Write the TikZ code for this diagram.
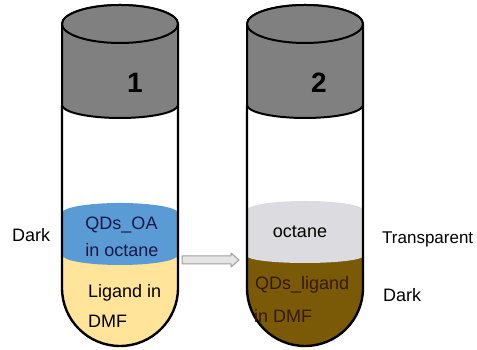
\documentclass[tikz,border=0pt]{standalone}
\usepackage{fontspec}
\setmainfont{Liberation Sans}
\usetikzlibrary{calc}

\definecolor{capgray}{RGB}{128,128,128}
\definecolor{octaneblue}{RGB}{91,155,213}
\definecolor{dmfyellow}{RGB}{255,228,153}
\definecolor{octanegray}{RGB}{220,220,224}
\definecolor{ligandbrown}{RGB}{122,90,6}
\definecolor{navytext}{RGB}{25,25,70}
\definecolor{browntext}{RGB}{55,25,8}

\begin{document}
\begin{tikzpicture}[x=1pt,y=1pt,line cap=round,line join=round,
    wall/.style={black,line width=2.4pt},
    lid/.style={black,fill=capgray,line width=2pt},
    lbl/.style={inner sep=0pt,font=\fontsize{18}{22}\selectfont},
    num/.style={inner sep=0pt,font=\fontsize{28}{32}\selectfont\bfseries}]

    \useasboundingbox (0,0) rectangle (477,350);

    % tube 1: ligand in DMF under QDs in octane
    \begin{scope}
        \clip (62,245) -- (62,62) arc[start angle=180,end angle=360,radius=58] -- (178,245) -- cycle;
        \fill[dmfyellow] (50,95) rectangle (190,0);
        \fill[octaneblue] (62,137) arc[start angle=180,end angle=0,x radius=58,y radius=10]
            -- (178,95) arc[start angle=0,end angle=-180,x radius=58,y radius=10] -- cycle;
    \end{scope}
    \draw[wall] (62,245) -- (62,62) arc[start angle=180,end angle=360,radius=58] -- (178,245);
    \draw[lid] (62,326) -- (62,245) arc[start angle=180,end angle=360,x radius=58,y radius=13]
        -- (178,326) arc[start angle=0,end angle=180,x radius=58,y radius=19] -- cycle;
    \draw[lid] (120,326) ellipse[x radius=58,y radius=19];

    % tube 2: octane on top, QDs moved to DMF
    \begin{scope}
        \clip (247,245) -- (247,62) arc[start angle=180,end angle=360,radius=58] -- (363,245) -- cycle;
        \fill[ligandbrown] (235,94) rectangle (375,0);
        \fill[octanegray] (247,140) arc[start angle=180,end angle=0,x radius=58,y radius=9]
            -- (363,94) arc[start angle=0,end angle=-180,x radius=58,y radius=7] -- cycle;
    \end{scope}
    \draw[wall] (247,245) -- (247,62) arc[start angle=180,end angle=360,radius=58] -- (363,245);
    \draw[lid] (247,326) -- (247,245) arc[start angle=180,end angle=360,x radius=58,y radius=13]
        -- (363,326) arc[start angle=0,end angle=180,x radius=58,y radius=19] -- cycle;
    \draw[lid] (305,326) ellipse[x radius=58,y radius=19];

    % lid numbers
    \node[num,anchor=base] (n1) at (135,257) {1};
    \node[num,anchor=base] (n2) at (319,257) {2};

    % layer labels
    \node[lbl,anchor=base,text=navytext] (qdsoa) at (121.5,120) {QDs\_OA};
    \node[lbl,anchor=base,text=navytext] (inoct) at (122,93) {in octane};
    \node[lbl,anchor=base west] (lig) at (88,52.5) {Ligand in};
    \node[lbl,anchor=base west] (dmf) at (88,22.5) {DMF};

    \node[lbl,anchor=base] (oct) at (300,112.5) {octane};
    \node[lbl,anchor=base west,text=browntext] (qdslig) at (255,60.5) {QDs\_ligand};
    \node[lbl,anchor=base west,text=browntext] (indmf) at (254,27.5) {in DMF};

    % side notes
    \node[lbl,anchor=base west] (dark1) at (12,108.5) {Dark};
    \node[lbl,anchor=base west,font=\fontsize{17}{21}\selectfont] (transp) at (382,106) {Transparent};
    \node[lbl,anchor=base west] (dark2) at (383,48.5) {Dark};

    % transfer arrow
    \coordinate (from) at (182,90);
    \coordinate (to) at (239,90);
    \draw[gray!75,fill=gray!20,line width=1pt] ($(from)+(0,-4)$) -- ($(to)+(-8,-4)$) -- ($(to)+(-8,-7)$)
        -- (to) -- ($(to)+(-8,7)$) -- ($(to)+(-8,4)$) -- ($(from)+(0,4)$) -- cycle;

\end{tikzpicture}
\end{document}
